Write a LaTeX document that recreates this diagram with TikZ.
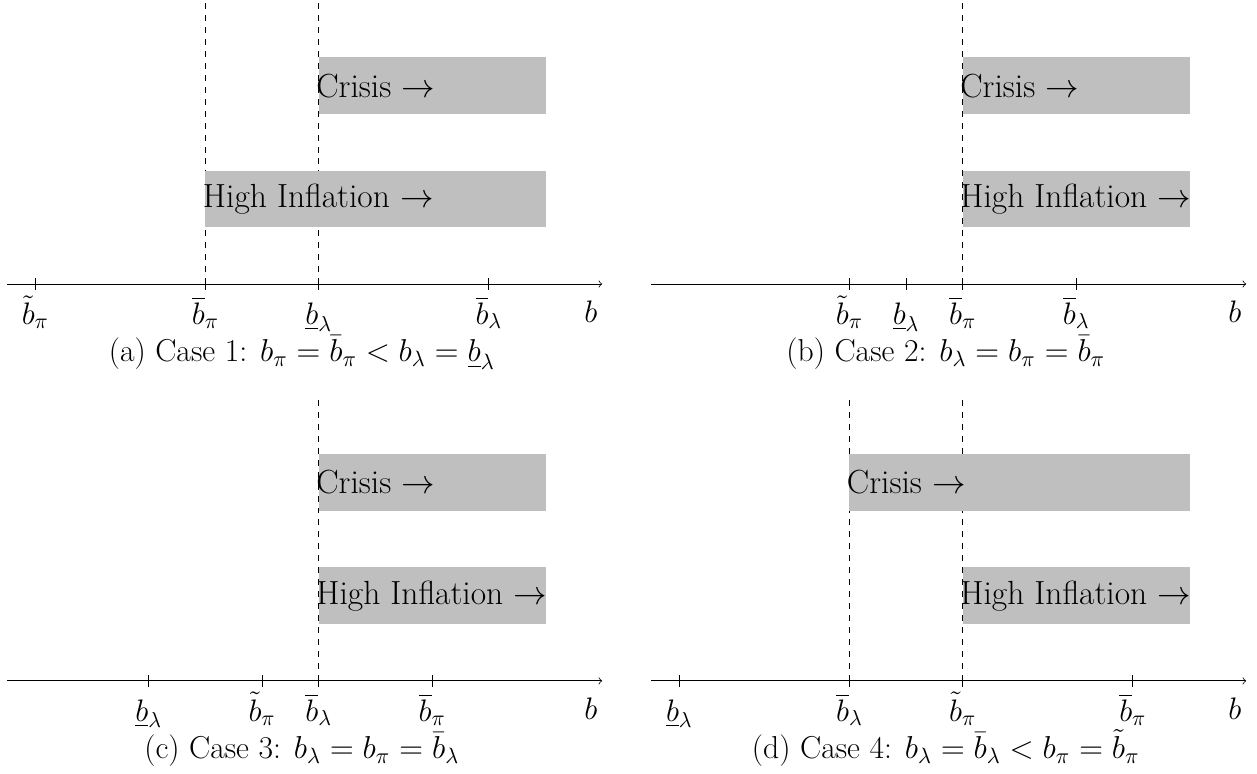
\RequirePackage{fix-cm}
\documentclass[tikz,border=0pt]{standalone}
\usepackage{amsmath}
\tikzset{
  boxfill/.style={fill=lightgray, draw=none},
  boxtext/.style={anchor=west, inner sep=0pt, font=\fontsize{16.8}{20}\selectfont},
  ticklab/.style={anchor=base, inner sep=0pt, font=\fontsize{15.6}{19}\selectfont},
  axislab/.style={anchor=base, inner sep=0pt, font=\fontsize{15.6}{19}\selectfont},
  caplab/.style={anchor=base, inner sep=0pt, font=\fontsize{15.9}{19}\selectfont},
  vdash/.style={dashed},
  axisline/.style={->},
  tickmark/.style={},
}
\begin{document}
\begin{tikzpicture}
\useasboundingbox (-0.123,-8.64) rectangle (22.05,5.01);

% ---------- panel (a)
\begin{scope}
  \coordinate (a0) at (0,0); \coordinate (a1) at (10.5,0);
  \coordinate (ad1b) at (3.5,0); \coordinate (ad1t) at (3.5,5);
  \coordinate (ad2b) at (5.5,0); \coordinate (ad2t) at (5.5,5);
  \draw[vdash] (ad1b) -- (ad1t);
  \draw[vdash] (ad2b) -- (ad2t);
  \path[boxfill] (5.5,3) rectangle (9.5,4);
  \path[boxfill] (3.5,1) rectangle (9.5,2);
  \node[boxtext] (acr) at (5.45,3.5) {Crisis $\rightarrow$};
  \node[boxtext] (ahi) at (3.45,1.5) {High Inflation $\rightarrow$};
  \draw[axisline] (a0) -- (a1);
  \foreach \x/\l in {0.5/\tilde{b}_\pi, 3.5/\overline{b}_\pi, 5.5/\underline{b}_\lambda, 8.5/\overline{b}_\lambda}{
    \draw[tickmark] (\x,-0.1) -- (\x,0.1);
    \node[ticklab] at (\x,-0.71) {$\l$};
  }
  \node[axislab] (ab) at (10.3,-0.68) {$b$};
  \node[caplab] (acap) at (5.2,-1.37) {(a) Case 1: $b_\pi = \bar{b}_\pi < b_\lambda = \underline{b}_\lambda$};
\end{scope}

% ---------- panel (b)
\begin{scope}[xshift=11.36cm]
  \coordinate (b0) at (0,0); \coordinate (b1) at (10.5,0);
  \coordinate (bd1b) at (5.5,0); \coordinate (bd1t) at (5.5,5);
  \draw[vdash] (bd1b) -- (bd1t);
  \path[boxfill] (5.5,3) rectangle (9.5,4);
  \path[boxfill] (5.5,1) rectangle (9.5,2);
  \node[boxtext] (bcr) at (5.45,3.5) {Crisis $\rightarrow$};
  \node[boxtext] (bhi) at (5.45,1.5) {High Inflation $\rightarrow$};
  \draw[axisline] (b0) -- (b1);
  \foreach \x/\l in {3.5/\tilde{b}_\pi, 4.5/\underline{b}_\lambda, 5.5/\overline{b}_\pi, 7.5/\overline{b}_\lambda}{
    \draw[tickmark] (\x,-0.1) -- (\x,0.1);
    \node[ticklab] at (\x,-0.71) {$\l$};
  }
  \node[axislab] (bb) at (10.3,-0.68) {$b$};
  \node[caplab] (bcap) at (5.2,-1.37) {(b) Case 2: $b_\lambda = b_\pi = \bar{b}_\pi$};
\end{scope}

% ---------- panel (c)
\begin{scope}[yshift=-7cm]
  \coordinate (c0) at (0,0); \coordinate (c1) at (10.5,0);
  \coordinate (cd1b) at (5.5,0); \coordinate (cd1t) at (5.5,5);
  \draw[vdash] (cd1b) -- (cd1t);
  \path[boxfill] (5.5,3) rectangle (9.5,4);
  \path[boxfill] (5.5,1) rectangle (9.5,2);
  \node[boxtext] (ccr) at (5.45,3.5) {Crisis $\rightarrow$};
  \node[boxtext] (chi) at (5.45,1.5) {High Inflation $\rightarrow$};
  \draw[axisline] (c0) -- (c1);
  \foreach \x/\l in {2.5/\underline{b}_\lambda, 4.5/\tilde{b}_\pi, 5.5/\overline{b}_\lambda, 7.5/\overline{b}_\pi}{
    \draw[tickmark] (\x,-0.1) -- (\x,0.1);
    \node[ticklab] at (\x,-0.71) {$\l$};
  }
  \node[axislab] (cb) at (10.3,-0.68) {$b$};
  \node[caplab] (ccap) at (5.2,-1.37) {(c) Case 3: $b_\lambda = b_\pi = \bar{b}_\lambda$};
\end{scope}

% ---------- panel (d)
\begin{scope}[xshift=11.36cm, yshift=-7cm]
  \coordinate (d0) at (0,0); \coordinate (d1) at (10.5,0);
  \coordinate (dd1b) at (3.5,0); \coordinate (dd1t) at (3.5,5);
  \coordinate (dd2b) at (5.5,0); \coordinate (dd2t) at (5.5,5);
  \draw[vdash] (dd1b) -- (dd1t);
  \draw[vdash] (dd2b) -- (dd2t);
  \path[boxfill] (3.5,3) rectangle (9.5,4);
  \path[boxfill] (5.5,1) rectangle (9.5,2);
  \node[boxtext] (dcr) at (3.45,3.5) {Crisis $\rightarrow$};
  \node[boxtext] (dhi) at (5.45,1.5) {High Inflation $\rightarrow$};
  \draw[axisline] (d0) -- (d1);
  \foreach \x/\l in {0.5/\underline{b}_\lambda, 3.5/\overline{b}_\lambda, 5.5/\tilde{b}_\pi, 8.5/\overline{b}_\pi}{
    \draw[tickmark] (\x,-0.1) -- (\x,0.1);
    \node[ticklab] at (\x,-0.71) {$\l$};
  }
  \node[axislab] (db) at (10.3,-0.68) {$b$};
  \node[caplab] (dcap) at (5.2,-1.37) {(d) Case 4: $b_\lambda = \bar{b}_\lambda < b_\pi = \tilde{b}_\pi$};
\end{scope}
\end{tikzpicture}
\end{document}
